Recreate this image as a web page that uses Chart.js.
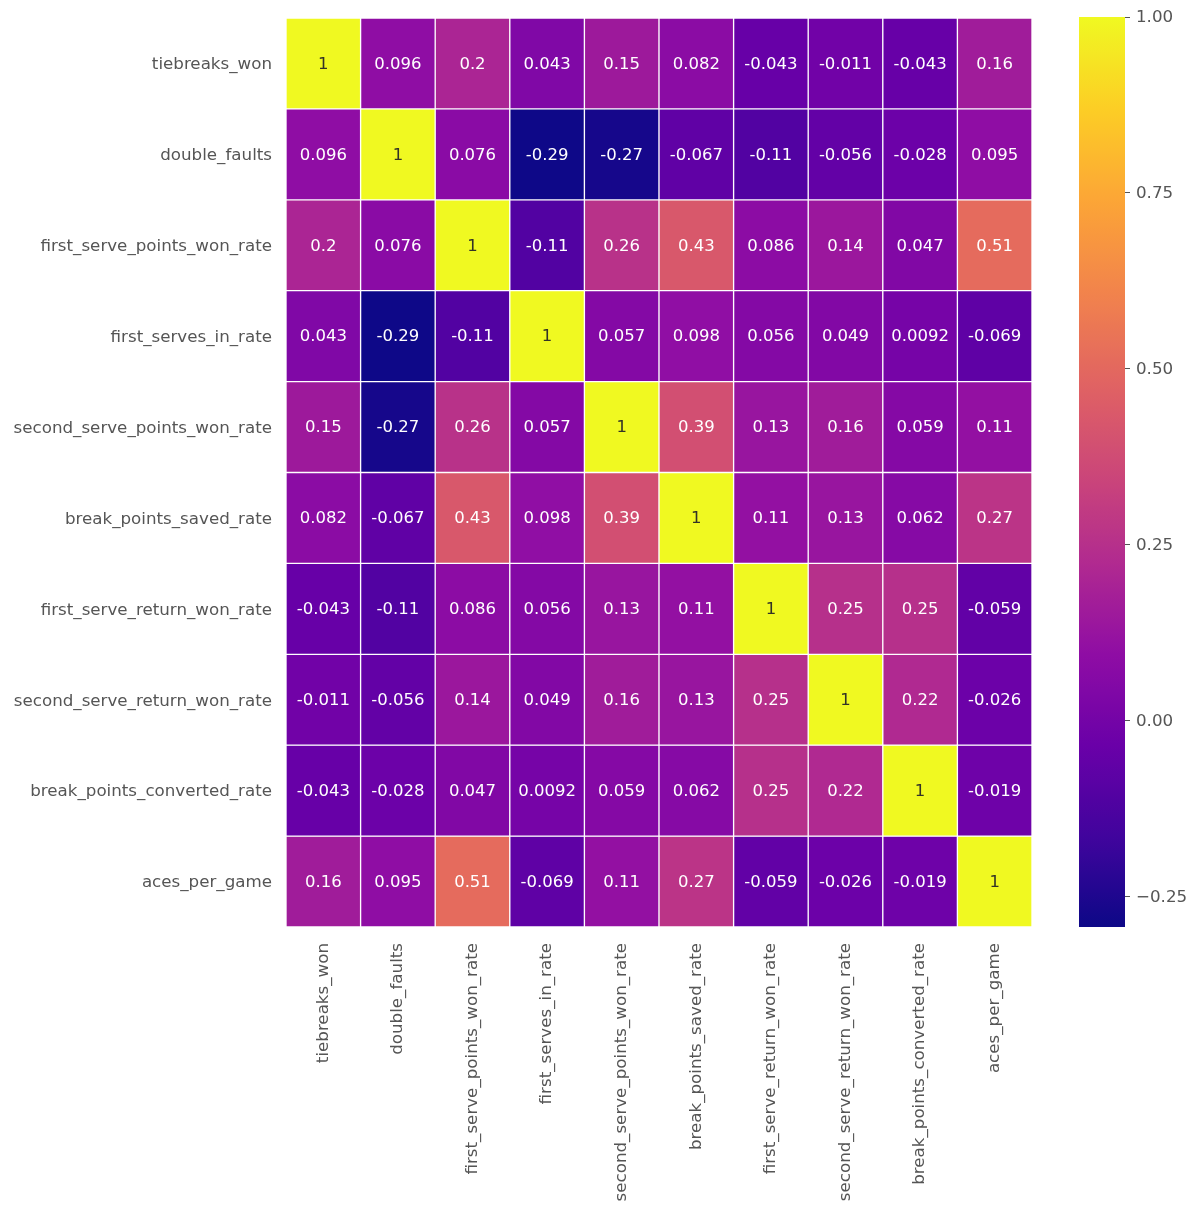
<!DOCTYPE html>
<html>
<head>
<meta charset="utf-8">
<script src="https://cdn.jsdelivr.net/npm/chart.js@4.4.1/dist/chart.umd.min.js"></script>
<style>
  html, body { margin: 0; padding: 0; background: #ffffff; }
  #wrap { position: relative; width: 1200px; height: 1213px; }
  #heat { position: absolute; left: 0; top: 0; }
  #cbar { position: absolute; left: 1040px; top: 0; }
</style>
</head>
<body>
<div id="wrap">
  <canvas id="heat" width="1040" height="1213"></canvas>
  <canvas id="cbar" width="160" height="1213"></canvas>
</div>
<script>
// ---- data ----
const variables = [
  'tiebreaks_won', 'double_faults', 'first_serve_points_won_rate', 'first_serves_in_rate',
  'second_serve_points_won_rate', 'break_points_saved_rate', 'first_serve_return_won_rate',
  'second_serve_return_won_rate', 'break_points_converted_rate', 'aces_per_game'
];
const row_tiebreaks_won = [1, 0.096, 0.2, 0.043, 0.15, 0.082, -0.043, -0.011, -0.043, 0.16];
const row_double_faults = [0.096, 1, 0.076, -0.29, -0.27, -0.067, -0.11, -0.056, -0.028, 0.095];
const row_first_serve_points_won_rate = [0.2, 0.076, 1, -0.11, 0.26, 0.43, 0.086, 0.14, 0.047, 0.51];
const row_first_serves_in_rate = [0.043, -0.29, -0.11, 1, 0.057, 0.098, 0.056, 0.049, 0.0092, -0.069];
const row_second_serve_points_won_rate = [0.15, -0.27, 0.26, 0.057, 1, 0.39, 0.13, 0.16, 0.059, 0.11];
const row_break_points_saved_rate = [0.082, -0.067, 0.43, 0.098, 0.39, 1, 0.11, 0.13, 0.062, 0.27];
const row_first_serve_return_won_rate = [-0.043, -0.11, 0.086, 0.056, 0.13, 0.11, 1, 0.25, 0.25, -0.059];
const row_second_serve_return_won_rate = [-0.011, -0.056, 0.14, 0.049, 0.16, 0.13, 0.25, 1, 0.22, -0.026];
const row_break_points_converted_rate = [-0.043, -0.028, 0.047, 0.0092, 0.059, 0.062, 0.25, 0.22, 1, -0.019];
const row_aces_per_game = [0.16, 0.095, 0.51, -0.069, 0.11, 0.27, -0.059, -0.026, -0.019, 1];
const rows = [
  row_tiebreaks_won, row_double_faults, row_first_serve_points_won_rate, row_first_serves_in_rate,
  row_second_serve_points_won_rate, row_break_points_saved_rate, row_first_serve_return_won_rate,
  row_second_serve_return_won_rate, row_break_points_converted_rate, row_aces_per_game
];
const colorMin = -0.293;
const colorMax = 1.0;
const colorbarTicks = [-0.25, 0, 0.25, 0.5, 0.75, 1.0];

// ---- plasma colormap ----
const plasma = ['#0d0887','#41049d','#6a00a8','#8f0da4','#b12a90','#cc4778','#e16462','#f2844b','#fca636','#fcce25','#f0f921'];
function hexToRgb(h) { return [parseInt(h.slice(1,3),16), parseInt(h.slice(3,5),16), parseInt(h.slice(5,7),16)]; }
const plasmaRgb = plasma.map(hexToRgb);
function plasmaColor(t) {
  t = Math.max(0, Math.min(1, t));
  const p = t * (plasmaRgb.length - 1);
  const i = Math.min(Math.floor(p), plasmaRgb.length - 2);
  const f = p - i;
  const a = plasmaRgb[i], b = plasmaRgb[i + 1];
  const c = a.map((v, k) => Math.round(v + (b[k] - v) * f));
  return `rgb(${c[0]},${c[1]},${c[2]})`;
}
function valueColor(v) { return plasmaColor((v - colorMin) / (colorMax - colorMin)); }

const FONT = "'DejaVu Sans', sans-serif";
const TEXT = '#555555';

// ---- heatmap ----
const datasets = rows.map((r, i) => ({
  label: variables[i],
  data: r.map(() => 1),
  values: r,
  backgroundColor: r.map(valueColor),
  borderColor: '#ffffff',
  borderWidth: 1,
  borderSkipped: false,
  barPercentage: 1,
  categoryPercentage: 1,
  stack: 's'
}));

const annotate = {
  id: 'annotate',
  afterDatasetsDraw(chart) {
    const ctx = chart.ctx;
    ctx.save();
    ctx.font = `16.5px ${FONT}`;
    ctx.textAlign = 'center';
    ctx.textBaseline = 'middle';
    chart.data.datasets.forEach((ds, di) => {
      const meta = chart.getDatasetMeta(di);
      meta.data.forEach((el, ci) => {
        const v = ds.values[ci];
        const cy = (el.y + el.base) / 2 + 1;
        ctx.fillStyle = v >= 0.9 ? '#333326' : '#ffffff';
        ctx.fillText(String(v), el.x, cy);
      });
    });
    ctx.restore();
  }
};

new Chart(document.getElementById('heat'), {
  type: 'bar',
  data: { labels: variables, datasets },
  options: {
    responsive: false,
    animation: false,
    layout: { padding: { top: 18, right: 8, left: 0, bottom: 0 } },
    plugins: { legend: { display: false }, tooltip: { enabled: false } },
    scales: {
      x: {
        stacked: true,
        grid: { display: false },
        border: { display: false },
        ticks: { minRotation: 90, maxRotation: 90, color: TEXT, font: { family: FONT, size: 16.7 }, padding: 8, autoSkip: false },
        afterFit(scale) { scale.height = 286; }
      },
      y: {
        stacked: true,
        min: 0, max: 10, reverse: true,
        grid: { display: false },
        border: { display: false },
        afterBuildTicks(scale) { scale.ticks = variables.map((_, i) => ({ value: i + 0.5 })); },
        ticks: {
          color: TEXT, font: { family: FONT, size: 16.7 }, padding: 6, autoSkip: false, labelOffset: 1.5,
          callback: (v) => variables[Math.floor(v)]
        },
        afterFit(scale) { scale.width = 286; }
      }
    }
  },
  plugins: [annotate]
});

// ---- colorbar ----
function gradientFill(context) {
  const chart = context.chart;
  const area = chart.chartArea;
  if (!area) return plasma[0];
  const yScale = chart.scales.y;
  const yb = yScale.getPixelForValue(colorMin);
  const yt = yScale.getPixelForValue(colorMax);
  const g = chart.ctx.createLinearGradient(0, yb, 0, yt);
  for (let k = 0; k <= 50; k++) g.addColorStop(k / 50, plasmaColor(k / 50));
  return g;
}

new Chart(document.getElementById('cbar'), {
  type: 'bar',
  data: {
    labels: ['scale'],
    datasets: [{ data: [[colorMin, colorMax]], backgroundColor: gradientFill, borderWidth: 0, barPercentage: 1, categoryPercentage: 1 }]
  },
  options: {
    responsive: false,
    animation: false,
    layout: { padding: { top: 17, left: 39, right: 0, bottom: 286 } },
    plugins: { legend: { display: false }, tooltip: { enabled: false } },
    scales: {
      x: { display: false },
      y: {
        position: 'right',
        min: colorMin, max: colorMax,
        border: { display: false },
        grid: { drawOnChartArea: false, drawTicks: true, tickLength: 5, color: TEXT, lineWidth: 1 },
        afterBuildTicks(scale) { scale.ticks = colorbarTicks.map(v => ({ value: v })); },
        ticks: {
          color: TEXT, font: { family: FONT, size: 16.7 }, padding: 6, labelOffset: 1,
          callback: (v) => (v < 0 ? '\u2212' + Math.abs(v).toFixed(2) : v.toFixed(2))
        },
        afterFit(scale) { scale.width = 75; }
      }
    }
  }
});
</script>
</body>
</html>
